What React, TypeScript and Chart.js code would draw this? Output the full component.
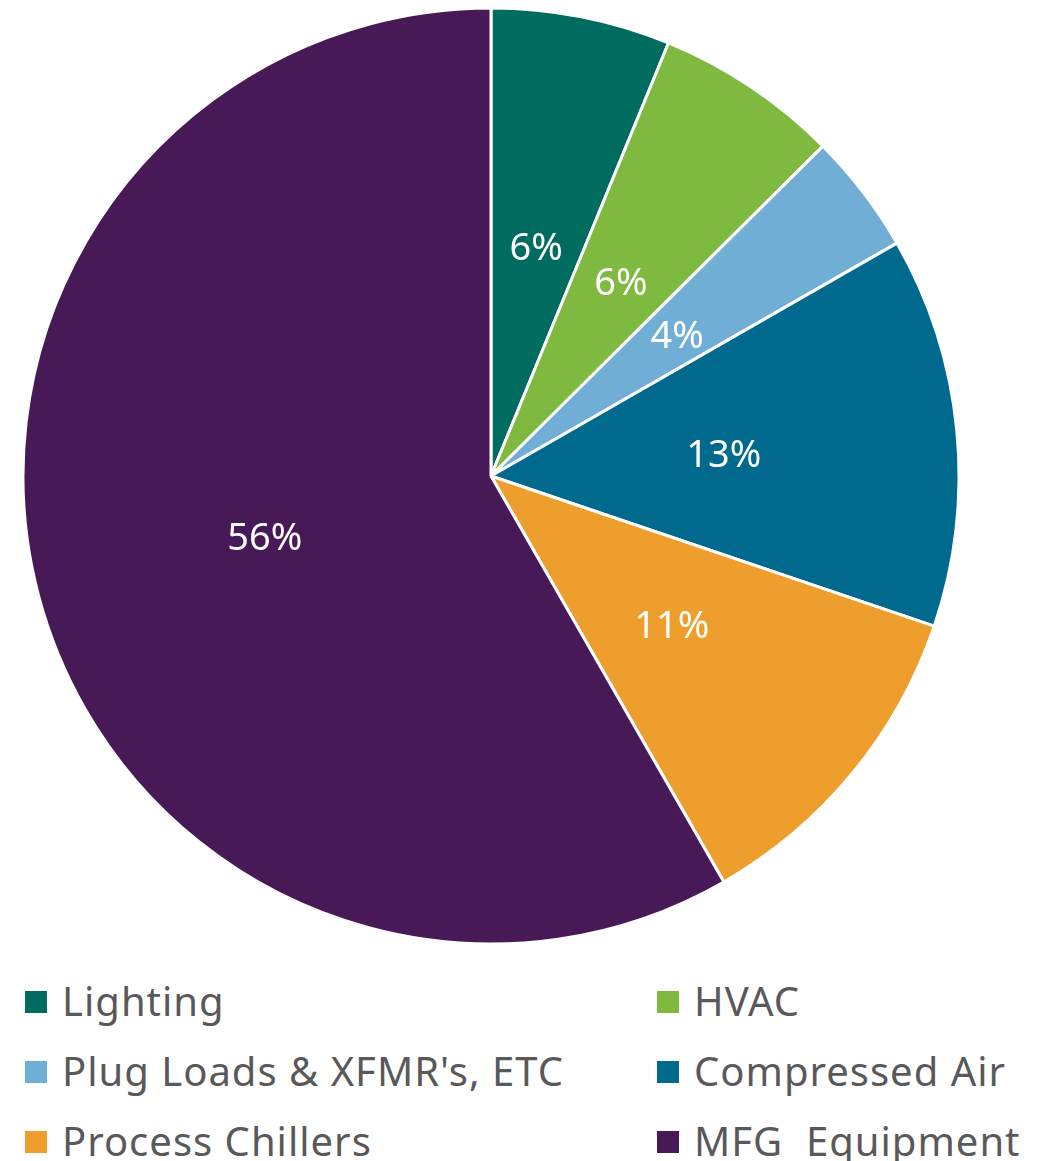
import React, { useEffect, useRef } from "react";
import { Chart, registerables } from "chart.js";

Chart.register(...registerables);

const categories = [
  "Lighting",
  "HVAC",
  "Plug Loads & XFMR's, ETC",
  "Compressed Air",
  "Process Chillers",
  "MFG  Equipment",
];
const shares = [6.19, 6.36, 4.16, 13.49, 11.51, 58.29];
const percentLabels = ["6%", "6%", "4%", "13%", "11%", "56%"];
const sliceColors = ["#006B5F", "#80B940", "#71AED6", "#006A8E", "#EE9E2D", "#481957"];

const FONT = "'Noto Sans', 'Open Sans', sans-serif";

const labelPlugin = {
  id: "sliceLabels",
  afterDatasetsDraw(chart: any) {
    const ctx = chart.ctx;
    const meta = chart.getDatasetMeta(0);
    ctx.save();
    ctx.fillStyle = "#FFFFFF";
    ctx.font = `38px ${FONT}`;
    ctx.textAlign = "center";
    ctx.textBaseline = "middle";
    meta.data.forEach((arc: any, i: number) => {
      const p = arc.tooltipPosition();
      ctx.fillText(percentLabels[i], p.x, p.y + 3);
    });
    ctx.restore();
  },
};

export default function App() {
  const ref = useRef<HTMLCanvasElement>(null);
  useEffect(() => {
    if (!ref.current) return;
    const chart = new Chart(ref.current, {
      type: "pie",
      data: {
        labels: categories,
        datasets: [
          {
            data: shares,
            backgroundColor: sliceColors,
            borderColor: "#FFFFFF",
            borderWidth: 3,
            radius: 468,
          } as any,
        ],
      },
      options: {
        responsive: false,
        animation: false,
        layout: { padding: { left: 15, right: 78, top: 0, bottom: 0 } },
        plugins: {
          legend: { display: false },
          tooltip: { enabled: false },
        },
      },
      plugins: [labelPlugin],
    });
    return () => chart.destroy();
  }, []);

  return (
    <div style={{ position: "relative", width: 1029, height: 1153 }}>
      <canvas ref={ref} width={1029} height={936} style={{ display: "block" }} />
      {categories.map((c, i) => {
        const col = i % 2;
        const row = Math.floor(i / 2);
        return (
          <div
            key={c}
            style={{
              position: "absolute",
              left: col === 0 ? 17 : 649,
              top: 994 + row * 70 - 25,
              height: 50,
              display: "flex",
              alignItems: "center",
              fontFamily: FONT,
              fontSize: 40,
              letterSpacing: 1,
              color: "#595959",
              whiteSpace: "pre",
            }}
          >
            <span
              style={{
                display: "inline-block",
                width: 22,
                height: 22,
                background: sliceColors[i],
                marginRight: 15,
              }}
            />
            <span style={{ position: "relative", top: -2 }}>{c}</span>
          </div>
        );
      })}
    </div>
  );
}
